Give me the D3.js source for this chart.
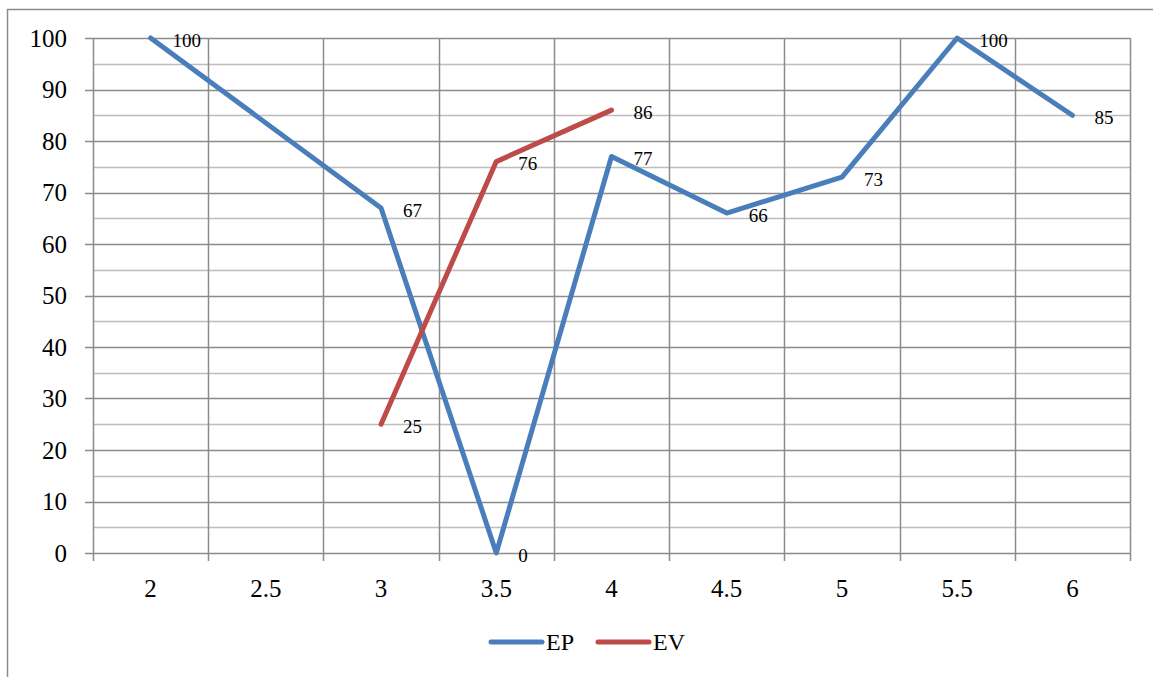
<!DOCTYPE html>
<html>
<head>
<meta charset="utf-8">
<script src="https://cdn.jsdelivr.net/npm/d3@7"></script>
<style>
  body { margin: 0; background: #fff; }
  svg { display: block; font-family: "Liberation Serif", "DejaVu Serif", serif; }
</style>
</head>
<body>
<div id="chart"></div>
<script>
const categories = ["2", "2.5", "3", "3.5", "4", "4.5", "5", "5.5", "6"];
const epValues = [100, null, 67, 0, 77, 66, 73, 100, 85];
const evValues = [null, null, 25, 76, 86, null, null, null, null];
const yTicks = [0, 10, 20, 30, 40, 50, 60, 70, 80, 90, 100];

const series = [
    { name: "EP", values: epValues, color: "#4a7ebb" },
    { name: "EV", values: evValues, color: "#be4b48" }
];

const width = 1153, height = 677;
const margin = { top: 38, right: 23, bottom: 124, left: 93 };

const svg = d3.select("#chart").append("svg")
    .attr("width", width)
    .attr("height", height);

// outer frame
svg.append("rect")
    .attr("x", 7.5).attr("y", 9.5)
    .attr("width", width + 10).attr("height", height + 10)
    .attr("fill", "none").attr("stroke", "#8c8c8c").attr("stroke-width", 1.5);

const x = d3.scaleBand().domain(categories).range([margin.left, width - margin.right]);
const y = d3.scaleLinear().domain([0, 100]).range([height - margin.bottom, margin.top]);

const g = svg.append("g");

// minor horizontal grid
g.selectAll(".minor").data(d3.range(5, 100, 10)).enter().append("line")
    .attr("x1", margin.left).attr("x2", width - margin.right)
    .attr("y1", d => Math.round(y(d)) + 0.5).attr("y2", d => Math.round(y(d)) + 0.5)
    .attr("stroke", "#bdbdbd").attr("stroke-width", 1.5);

// major horizontal grid with ticks to the left
g.selectAll(".major").data(yTicks).enter().append("line")
    .attr("x1", margin.left - 8).attr("x2", width - margin.right)
    .attr("y1", d => Math.round(y(d)) + 0.5).attr("y2", d => Math.round(y(d)) + 0.5)
    .attr("stroke", "#8c8c8c").attr("stroke-width", 1.5);

// vertical grid at category boundaries, extending as tick marks
const bounds = categories.map(c => x(c)).concat([x(categories[categories.length - 1]) + x.bandwidth()]);
g.selectAll(".vgrid").data(bounds).enter().append("line")
    .attr("x1", d => Math.round(d) + 0.5).attr("x2", d => Math.round(d) + 0.5)
    .attr("y1", margin.top).attr("y2", height - margin.bottom + 8)
    .attr("stroke", "#8c8c8c").attr("stroke-width", 1.5);

// y labels
g.selectAll(".ylab").data(yTicks).enter().append("text")
    .attr("x", margin.left - 26).attr("y", d => y(d))
    .attr("dy", "0.35em").attr("text-anchor", "end")
    .attr("font-size", 25).attr("fill", "#000")
    .text(d => d);

// x labels
g.selectAll(".xlab").data(categories).enter().append("text")
    .attr("x", d => x(d) + x.bandwidth() / 2).attr("y", height - margin.bottom + 44)
    .attr("text-anchor", "middle")
    .attr("font-size", 25).attr("fill", "#000")
    .text(d => d);

const cx = c => x(c) + x.bandwidth() / 2;

series.forEach(s => {
    const pts = categories.map((c, i) => ({ c: c, v: s.values[i] })).filter(d => d.v !== null);
    const line = d3.line().x(d => cx(d.c)).y(d => y(d.v));
    g.append("path")
        .datum(pts)
        .attr("d", line)
        .attr("fill", "none")
        .attr("stroke", s.color)
        .attr("stroke-width", 5)
        .attr("stroke-linejoin", "round")
        .attr("stroke-linecap", "round");

    g.selectAll(null).data(pts).enter().append("text")
        .attr("x", d => cx(d.c) + 22).attr("y", d => y(d.v) + 2)
        .attr("dy", "0.35em")
        .attr("font-size", 19).attr("fill", "#000")
        .text(d => d.v);
});

// legend
const legend = svg.append("g");
const legendItems = [{ s: series[0], x: 489 }, { s: series[1], x: 596 }];
legendItems.forEach(item => {
    legend.append("line")
        .attr("x1", item.x + 2).attr("x2", item.x + 53)
        .attr("y1", 642).attr("y2", 642)
        .attr("stroke", item.s.color).attr("stroke-width", 5)
        .attr("stroke-linecap", "round");
    legend.append("text")
        .attr("x", item.x + 57).attr("y", 642)
        .attr("dy", "0.35em")
        .attr("font-size", 24).attr("fill", "#000")
        .text(item.s.name);
});
</script>
</body>
</html>
